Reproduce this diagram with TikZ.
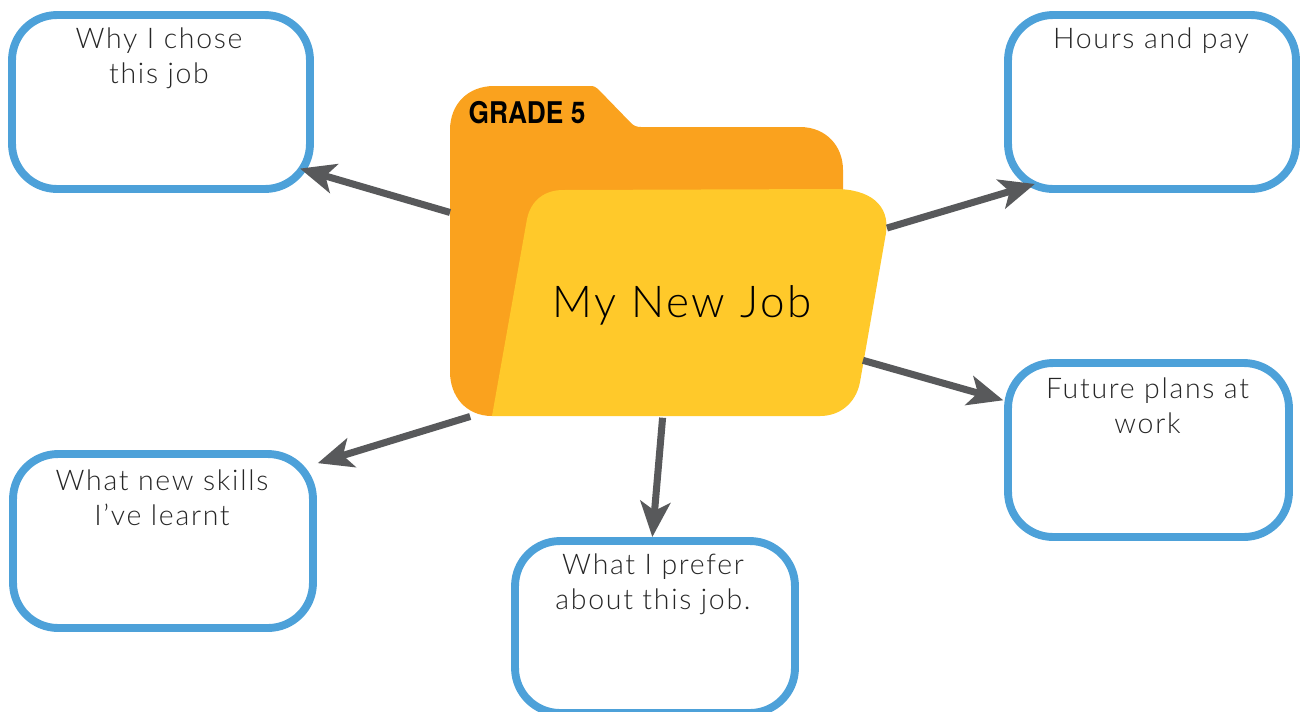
\documentclass[tikz,border=0pt]{standalone}
\usepackage{fontspec}
\usetikzlibrary{arrows.meta}
\setmainfont{Lato Light}[LetterSpace=6]
\newfontfamily\gradefont{TeX Gyre Heros}[FakeStretch=0.88]
\definecolor{boxblue}{HTML}{4DA1D9}
\definecolor{backorange}{HTML}{FAA21E}
\definecolor{frontyellow}{HTML}{FFC92A}
\definecolor{arrowgrey}{HTML}{58595B}
\begin{document}
\begin{tikzpicture}[x=0.02cm,y=-0.02cm,
    jobbox/.style={draw=boxblue,line width=4.5pt,rounded corners=0.9cm,outer sep=0pt,minimum height=3.48cm},
    note/.style={align=center,font=\fontsize{16.2}{20}\selectfont,text=black!85,inner sep=0pt},
    flow/.style={draw=arrowgrey,line width=4pt,-{Stealth[length=20pt,width=17pt,inset=5pt]}}]
    \useasboundingbox (0,0) rectangle (1301,711);

    \node[minimum width=8.74cm,minimum height=6.6cm,outer sep=0pt,inner sep=0pt] (folder) at (668.5,251) {};
    \fill[backorange] (492,416) .. controls (465,416) and (450,395) .. (450,372) -- (450,130)
        .. controls (450,104) and (468,86) .. (494,86) -- (590,86) .. controls (594,86) and (596,87) .. (598,89)
        -- (631,123) .. controls (634,126) and (637,127) .. (641,127) -- (800,127)
        .. controls (826,127) and (843,146) .. (843,170) -- (843,195) -- (600,230) -- cycle;
    \fill[frontyellow] (492,416) -- (527,219) .. controls (531,200) and (545,190) .. (563,190) -- (835,189)
        .. controls (870,189) and (890,205) .. (886,233) -- (860,382)
        .. controls (856,403) and (840,416) .. (820,416) -- cycle;

    \node[font=\gradefont\fontsize{17}{20}\bfseries\selectfont,inner sep=0pt] (grade) at (527,113) {GRADE 5};
    \node[font=\fontsize{25}{30}\selectfont,inner sep=0pt] (title) at (682,305) {My New Job};

    \node[jobbox,minimum width=5.96cm] (why) at (161,102) {};
    \node[jobbox,minimum width=5.76cm] (hours) at (1152,102) {};
    \node[jobbox,minimum width=5.62cm] (future) at (1148.5,450) {};
    \node[jobbox,minimum width=6.00cm] (skills) at (163,541) {};
    \node[jobbox,minimum width=5.60cm,minimum height=3.44cm] (prefer) at (655,627) {};

    \node[note] (whytext) at (159,58) {Why I chose\\this job};
    \node[note] (hourstext) at (1151,41) {Hours and pay};
    \node[note] (futuretext) at (1147.5,406) {Future plans at\\work};
    \node[note] (skillstext) at (162,498) {What new skills\\I've learnt};
    \node[note] (prefertext) at (653,584) {What I prefer\\about this job.};

    \draw[flow,shorten >=-5.9pt] (folder.170.9) -- (why.-25.8);
    \draw[flow,shorten >=-10pt] (folder.6.27) -- (hours.213);
    \draw[flow,shorten <=-14.2pt,shorten >=2.8pt] (folder.-28.8) -- (future.161.3);
    \draw[flow,shorten <=1pt,shorten >=2.8pt] (folder.220.1) -- (skills.27.6);
    \draw[flow,shorten <=1pt,shorten >=2.3pt] (folder.268.1) -- (prefer.92.9);
\end{tikzpicture}
\end{document}
